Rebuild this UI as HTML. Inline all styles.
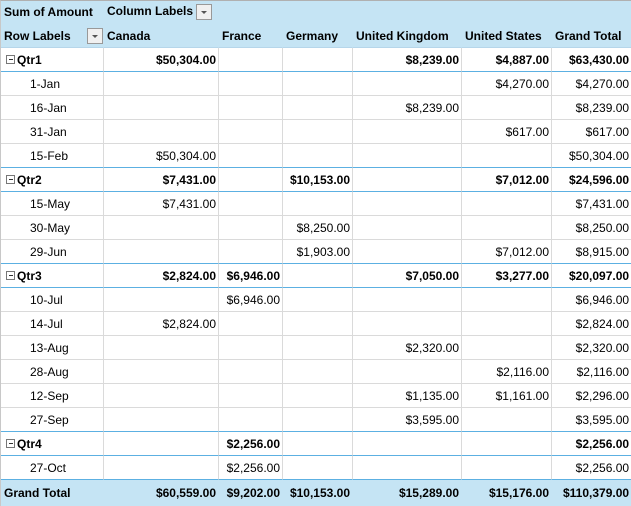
<!DOCTYPE html>
<html><head><style>
body{margin:0;width:631px;height:506px;overflow:hidden;background:#fff;font-family:"Liberation Sans",sans-serif;font-size:12px;color:#000}
table{position:absolute;left:0;top:0;border-collapse:separate;border-spacing:0;table-layout:fixed;width:631px;border-top:1px solid #b0b0b0;border-left:1px solid #c8c8c8}
td{height:24px;padding:0 2px 0 3px;border-right:1px solid #dadada;border-bottom:1px solid #dadada;white-space:nowrap;overflow:hidden;text-align:right;box-sizing:border-box}
td:first-child{text-align:left}
tr.h td{background:#c5e4f4;font-weight:bold;border-color:#c5e4f4;text-align:left}
tr.h1 td{height:23px}
tr.h2 td{height:24px;border-bottom:1px solid #b6d6ea}
tr.q td{font-weight:bold;border-bottom:1px solid #5cb0e2}
tr.b td{border-bottom:1px solid #5cb0e2}
tr.q td:first-child{padding-left:5px}
tr.d td:first-child{padding-left:29px}
tr.g td{background:#c5e4f4;font-weight:bold;border-color:#c5e4f4;height:26px}
.box{display:inline-block;width:7px;height:7px;border:1px solid #777;vertical-align:0px;margin-right:2px;position:relative;background:#fff}
.box:after{content:"";position:absolute;left:1.5px;top:3px;width:4px;height:1px;background:#333}
.dd{display:inline-block;width:14px;height:14px;border:1px solid #999;background:#f0f0f0;vertical-align:middle;position:relative}
.dd:after{content:"";position:absolute;left:4px;top:6px;border:3px solid transparent;border-top:3px solid #555}
tr td:last-child{border-right:1px solid #b0b0b0}
</style></head><body>
<table>
<colgroup><col style="width:103px"><col style="width:115px"><col style="width:64px"><col style="width:70px"><col style="width:109px"><col style="width:90px"><col style="width:80px"></colgroup>
<tr class="h h1"><td>Sum of Amount</td><td colspan="6" style="padding-left:3px">Column Labels <span class="dd"></span></td></tr>
<tr class="h h2"><td style="position:relative">Row Labels <span class="dd" style="position:absolute;left:86px;top:4px"></span></td><td>Canada</td><td>France</td><td>Germany</td><td>United Kingdom</td><td>United States</td><td>Grand Total</td></tr>
<tr class="q"><td><span class="box"></span>Qtr1</td><td>$50,304.00</td><td></td><td></td><td>$8,239.00</td><td>$4,887.00</td><td>$63,430.00</td></tr>
<tr class="d"><td>1-Jan</td><td></td><td></td><td></td><td></td><td>$4,270.00</td><td>$4,270.00</td></tr>
<tr class="d"><td>16-Jan</td><td></td><td></td><td></td><td>$8,239.00</td><td></td><td>$8,239.00</td></tr>
<tr class="d"><td>31-Jan</td><td></td><td></td><td></td><td></td><td>$617.00</td><td>$617.00</td></tr>
<tr class="d b"><td>15-Feb</td><td>$50,304.00</td><td></td><td></td><td></td><td></td><td>$50,304.00</td></tr>
<tr class="q"><td><span class="box"></span>Qtr2</td><td>$7,431.00</td><td></td><td>$10,153.00</td><td></td><td>$7,012.00</td><td>$24,596.00</td></tr>
<tr class="d"><td>15-May</td><td>$7,431.00</td><td></td><td></td><td></td><td></td><td>$7,431.00</td></tr>
<tr class="d"><td>30-May</td><td></td><td></td><td>$8,250.00</td><td></td><td></td><td>$8,250.00</td></tr>
<tr class="d b"><td>29-Jun</td><td></td><td></td><td>$1,903.00</td><td></td><td>$7,012.00</td><td>$8,915.00</td></tr>
<tr class="q"><td><span class="box"></span>Qtr3</td><td>$2,824.00</td><td>$6,946.00</td><td></td><td>$7,050.00</td><td>$3,277.00</td><td>$20,097.00</td></tr>
<tr class="d"><td>10-Jul</td><td></td><td>$6,946.00</td><td></td><td></td><td></td><td>$6,946.00</td></tr>
<tr class="d"><td>14-Jul</td><td>$2,824.00</td><td></td><td></td><td></td><td></td><td>$2,824.00</td></tr>
<tr class="d"><td>13-Aug</td><td></td><td></td><td></td><td>$2,320.00</td><td></td><td>$2,320.00</td></tr>
<tr class="d"><td>28-Aug</td><td></td><td></td><td></td><td></td><td>$2,116.00</td><td>$2,116.00</td></tr>
<tr class="d"><td>12-Sep</td><td></td><td></td><td></td><td>$1,135.00</td><td>$1,161.00</td><td>$2,296.00</td></tr>
<tr class="d b"><td>27-Sep</td><td></td><td></td><td></td><td>$3,595.00</td><td></td><td>$3,595.00</td></tr>
<tr class="q"><td><span class="box"></span>Qtr4</td><td></td><td>$2,256.00</td><td></td><td></td><td></td><td>$2,256.00</td></tr>
<tr class="d b"><td>27-Oct</td><td></td><td>$2,256.00</td><td></td><td></td><td></td><td>$2,256.00</td></tr>
<tr class="g"><td>Grand Total</td><td>$60,559.00</td><td>$9,202.00</td><td>$10,153.00</td><td>$15,289.00</td><td>$15,176.00</td><td>$110,379.00</td></tr>
</table>
</body></html>
